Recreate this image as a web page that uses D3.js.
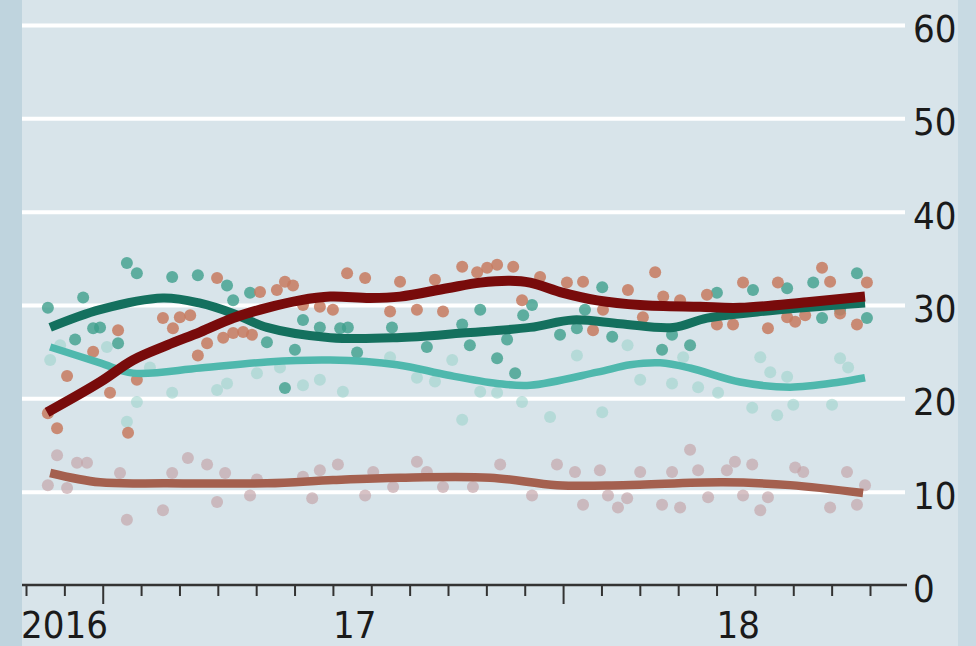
<!DOCTYPE html>
<html>
<head>
<meta charset="utf-8">
<script src="https://cdn.jsdelivr.net/npm/d3@7/dist/d3.min.js"></script>
<style>
  html, body { margin: 0; padding: 0; background: #d8e4ea; }
  svg { display: block; }
  text { font-family: "DejaVu Sans Condensed", "Liberation Sans Narrow", "DejaVu Sans", sans-serif; font-stretch: condensed; }
</style>
</head>
<body>
<svg id="chart" width="976" height="646"></svg>
<script>
// ---------- DATA ----------
const xTicks = [2016.2, 2016.3, 2016.4, 2016.5, 2016.6, 2016.7, 2016.8, 2016.9, 2017.0, 2017.1, 2017.2,
  2017.3, 2017.4, 2017.5, 2017.6, 2017.7, 2017.8, 2017.9, 2018.0, 2018.1, 2018.2, 2018.3, 2018.4];
const xMajorTicks = [2016.4, 2017.6];
const xLabels = [{ label: "2016", t: 2016.2 }, { label: "17", t: 2017.0 }, { label: "18", t: 2018.0 }];
const yTicks = [0, 10, 20, 30, 40, 50, 60];

// trend lines: [decimal year, %]
const redTrend = [[2016.255,18.5],[2016.393,21.75],[2016.479,24.1],[2016.568,25.7],[2016.654,27.1],[2016.740,28.6],
  [2016.828,29.7],[2016.914,30.5],[2016.993,30.9],[2017.097,30.75],[2017.175,30.9],[2017.298,31.8],[2017.384,32.4],
  [2017.462,32.6],[2017.514,32.4],[2017.600,31.3],[2017.689,30.5],[2017.801,30.0],[2017.957,29.8],[2018.061,29.7],
  [2018.236,30.3],[2018.387,30.9]];
const tealTrend = [[2016.263,27.6],[2016.393,29.5],[2016.557,30.75],[2016.654,30.2],[2016.740,29.1],[2016.828,27.6],
  [2016.993,26.5],[2017.167,26.5],[2017.339,27.0],[2017.514,27.6],[2017.626,28.4],[2017.749,28.0],[2017.887,27.6],
  [2017.975,28.6],[2018.106,29.25],[2018.387,30.2]];
const lightTrend = [[2016.263,25.5],[2016.393,23.8],[2016.479,22.7],[2016.654,23.25],[2016.828,23.9],[2016.993,24.1],
  [2017.167,23.6],[2017.298,22.5],[2017.428,21.6],[2017.514,21.4],[2017.689,22.8],[2017.775,23.6],[2017.853,23.8],
  [2017.931,23.25],[2018.061,21.75],[2018.192,21.2],[2018.322,21.75],[2018.387,22.2]];
const brownTrend = [[2016.263,12.0],[2016.393,11.0],[2016.568,10.9],[2016.828,10.9],[2017.0,11.25],[2017.175,11.5],
  [2017.41,11.5],[2017.584,10.7],[2017.756,10.7],[2018.017,11.0],[2018.192,10.7],[2018.382,9.85]];

// individual polls: [decimal year, %]
const redPolls = [[2016.257,18.4],[2016.281,16.8],[2016.307,22.4],[2016.375,25.0],[2016.419,20.6],[2016.440,27.3],
  [2016.466,16.3],[2016.489,22.0],[2016.557,28.6],[2016.583,27.5],[2016.601,28.7],[2016.628,28.9],[2016.648,24.6],
  [2016.672,25.9],[2016.698,32.9],[2016.714,26.5],[2016.740,27.0],[2016.766,27.1],[2016.789,26.8],[2016.810,31.4],
  [2016.854,31.6],[2016.875,32.5],[2016.896,32.1],[2016.922,30.0],[2016.966,29.8],[2017.000,29.5],[2017.037,33.4],
  [2017.084,32.9],[2017.149,29.3],[2017.175,32.5],[2017.219,29.5],[2017.266,32.7],[2017.287,29.3],[2017.337,34.1],
  [2017.376,33.5],[2017.402,34.0],[2017.428,34.3],[2017.470,34.1],[2017.493,30.5],[2017.540,33.0],[2017.610,32.4],
  [2017.652,32.5],[2017.678,27.3],[2017.704,29.5],[2017.769,31.6],[2017.808,28.7],[2017.840,33.5],[2017.861,30.9],
  [2017.905,30.5],[2017.975,31.1],[2018.001,27.9],[2018.043,27.9],[2018.069,32.4],[2018.134,27.5],[2018.160,32.4],
  [2018.184,28.7],[2018.205,28.2],[2018.231,28.9],[2018.275,34.0],[2018.296,32.5],[2018.322,29.1],[2018.366,27.9],
  [2018.392,32.4]];
const tealPolls = [[2016.257,29.7],[2016.328,26.3],[2016.349,30.8],[2016.375,27.5],[2016.393,27.6],[2016.440,25.9],
  [2016.463,34.5],[2016.489,33.4],[2016.581,33.0],[2016.648,33.2],[2016.724,32.1],[2016.740,30.5],[2016.784,31.3],
  [2016.828,26.0],[2016.875,21.1],[2016.901,25.2],[2016.922,28.4],[2016.966,27.6],[2017.019,27.5],[2017.039,27.6],
  [2017.063,24.9],[2017.154,27.6],[2017.245,25.5],[2017.337,27.9],[2017.357,25.7],[2017.384,29.5],[2017.428,24.3],
  [2017.454,26.3],[2017.475,22.7],[2017.496,28.9],[2017.519,30.0],[2017.592,26.8],[2017.636,27.5],[2017.657,29.5],
  [2017.702,31.9],[2017.728,26.6],[2017.858,25.2],[2017.884,26.8],[2017.931,25.7],[2018.001,31.3],[2018.095,31.6],
  [2018.184,31.8],[2018.252,32.4],[2018.275,28.6],[2018.322,29.5],[2018.366,33.4],[2018.392,28.6]];
const lightPolls = [[2016.263,24.1],[2016.289,25.7],[2016.411,25.5],[2016.463,17.5],[2016.489,19.6],[2016.523,23.3],
  [2016.581,20.6],[2016.698,20.9],[2016.724,21.6],[2016.802,22.7],[2016.862,23.3],[2016.922,21.4],[2016.966,22.0],
  [2017.026,20.7],[2017.149,24.4],[2017.219,22.2],[2017.266,21.8],[2017.311,24.1],[2017.337,17.7],[2017.384,20.7],
  [2017.428,20.6],[2017.493,19.6],[2017.566,18.0],[2017.636,24.6],[2017.702,18.5],[2017.768,25.7],[2017.801,22.0],
  [2017.884,21.6],[2017.913,24.4],[2017.952,21.2],[2018.004,20.6],[2018.093,19.0],[2018.114,24.4],[2018.140,22.8],
  [2018.158,18.2],[2018.184,22.3],[2018.200,19.3],[2018.301,19.3],[2018.322,24.3],[2018.343,23.3]];
const brownPolls = [[2016.257,10.7],[2016.281,13.9],[2016.307,10.4],[2016.333,13.1],[2016.359,13.1],[2016.445,12.0],
  [2016.463,7.0],[2016.557,8.0],[2016.581,12.0],[2016.622,13.6],[2016.672,12.9],[2016.698,8.9],[2016.719,12.0],
  [2016.784,9.6],[2016.802,11.3],[2016.922,11.6],[2016.946,9.3],[2016.966,12.3],[2017.013,12.9],[2017.084,9.6],
  [2017.105,12.1],[2017.157,10.5],[2017.219,13.2],[2017.245,12.1],[2017.287,10.5],[2017.365,10.5],[2017.436,12.9],
  [2017.519,9.6],[2017.584,12.9],[2017.631,12.1],[2017.652,8.6],[2017.696,12.3],[2017.717,9.6],[2017.743,8.3],
  [2017.767,9.3],[2017.801,12.1],[2017.858,8.6],[2017.884,12.1],[2017.905,8.3],[2017.931,14.5],[2017.952,12.3],
  [2017.978,9.4],[2018.027,12.3],[2018.048,13.2],[2018.069,9.6],[2018.093,12.9],[2018.114,8.0],[2018.134,9.4],
  [2018.205,12.6],[2018.226,12.1],[2018.296,8.3],[2018.340,12.1],[2018.366,8.6],[2018.387,10.7]];

const series = [
  { name: "brown", polls: brownPolls, trend: brownTrend, dot: "#c3a2a6", dotOpacity: 0.65, line: "#a4604f", width: 8.5 },
  { name: "light", polls: lightPolls, trend: lightTrend, dot: "#9ed3cc", dotOpacity: 0.6, line: "#4fb8ad", width: 7.5 },
  { name: "teal",  polls: tealPolls,  trend: tealTrend,  dot: "#3f9f8c", dotOpacity: 0.8, line: "#14705e", width: 9 },
  { name: "red",   polls: redPolls,   trend: redTrend,   dot: "#c77a5f", dotOpacity: 0.85, line: "#780b0b", width: 10 }
];

// ---------- LAYOUT ----------
const W = 976, H = 646;
const plotLeft = 22, gridRight = 905;
const svg = d3.select("#chart");

const x = d3.scaleLinear().domain([2016.2, 2018.4]).range([26, 870]);
const y = d3.scaleLinear().domain([0, 60]).range([585, 25]);

// background panels
svg.append("rect").attr("x", 0).attr("y", 0).attr("width", W).attr("height", H).attr("fill", "#d8e4ea");
svg.append("rect").attr("x", 0).attr("y", 0).attr("width", plotLeft).attr("height", H).attr("fill", "#bfd4de");
svg.append("rect").attr("x", 958).attr("y", 0).attr("width", W - 958).attr("height", H).attr("fill", "#c8dae3");

// gridlines + right labels
const yAxis = d3.axisRight(y).tickValues(yTicks).tickSize(-(gridRight - plotLeft)).tickPadding(8).tickFormat(d3.format("d"));
const gy = svg.append("g").attr("transform", `translate(${gridRight},0)`).call(yAxis);
gy.select(".domain").remove();
gy.selectAll(".tick line").attr("stroke", "#ffffff").attr("stroke-width", 4)
  .attr("display", d => d === 0 ? "none" : null);
gy.selectAll(".tick text").attr("font-size", 38).attr("fill", "#1a1a1a").attr("dy", "0.38em")
  .attr("transform", "translate(0,2)");

// x axis
const xAxis = d3.axisBottom(x).tickValues(xTicks).tickSize(11).tickFormat("");
const gx = svg.append("g").attr("transform", `translate(0,${y(0)})`).call(xAxis);
gx.select(".domain").remove();
gx.selectAll(".tick line").attr("stroke", "#333").attr("stroke-width", 2)
  .attr("y2", d => xMajorTicks.includes(d) ? 19 : 11);
gx.append("line").attr("x1", plotLeft).attr("x2", gridRight + 2).attr("y1", 0).attr("y2", 0)
  .attr("stroke", "#333").attr("stroke-width", 2.5);

svg.append("g").selectAll("text").data(xLabels).join("text")
  .attr("x", d => x(d.t)).attr("dx", d => d.label === "2016" ? -5 : 0)
  .attr("y", 638).attr("font-size", 38).attr("fill", "#1a1a1a")
  .attr("text-anchor", "start").text(d => d.label);

// dots
const dotsG = svg.append("g");
series.forEach(s => {
  dotsG.append("g").selectAll("circle").data(s.polls).join("circle")
    .attr("cx", d => x(d[0])).attr("cy", d => y(d[1])).attr("r", 6)
    .attr("fill", s.dot).attr("fill-opacity", s.dotOpacity);
});

// trend lines
const line = d3.line().x(d => x(d[0])).y(d => y(d[1])).curve(d3.curveCatmullRom.alpha(0.5));
series.forEach(s => {
  svg.append("path").datum(s.trend).attr("d", line)
    .attr("fill", "none").attr("stroke", s.line).attr("stroke-width", s.width)
    .attr("stroke-linecap", "butt").attr("stroke-linejoin", "round");
});
</script>
</body>
</html>
